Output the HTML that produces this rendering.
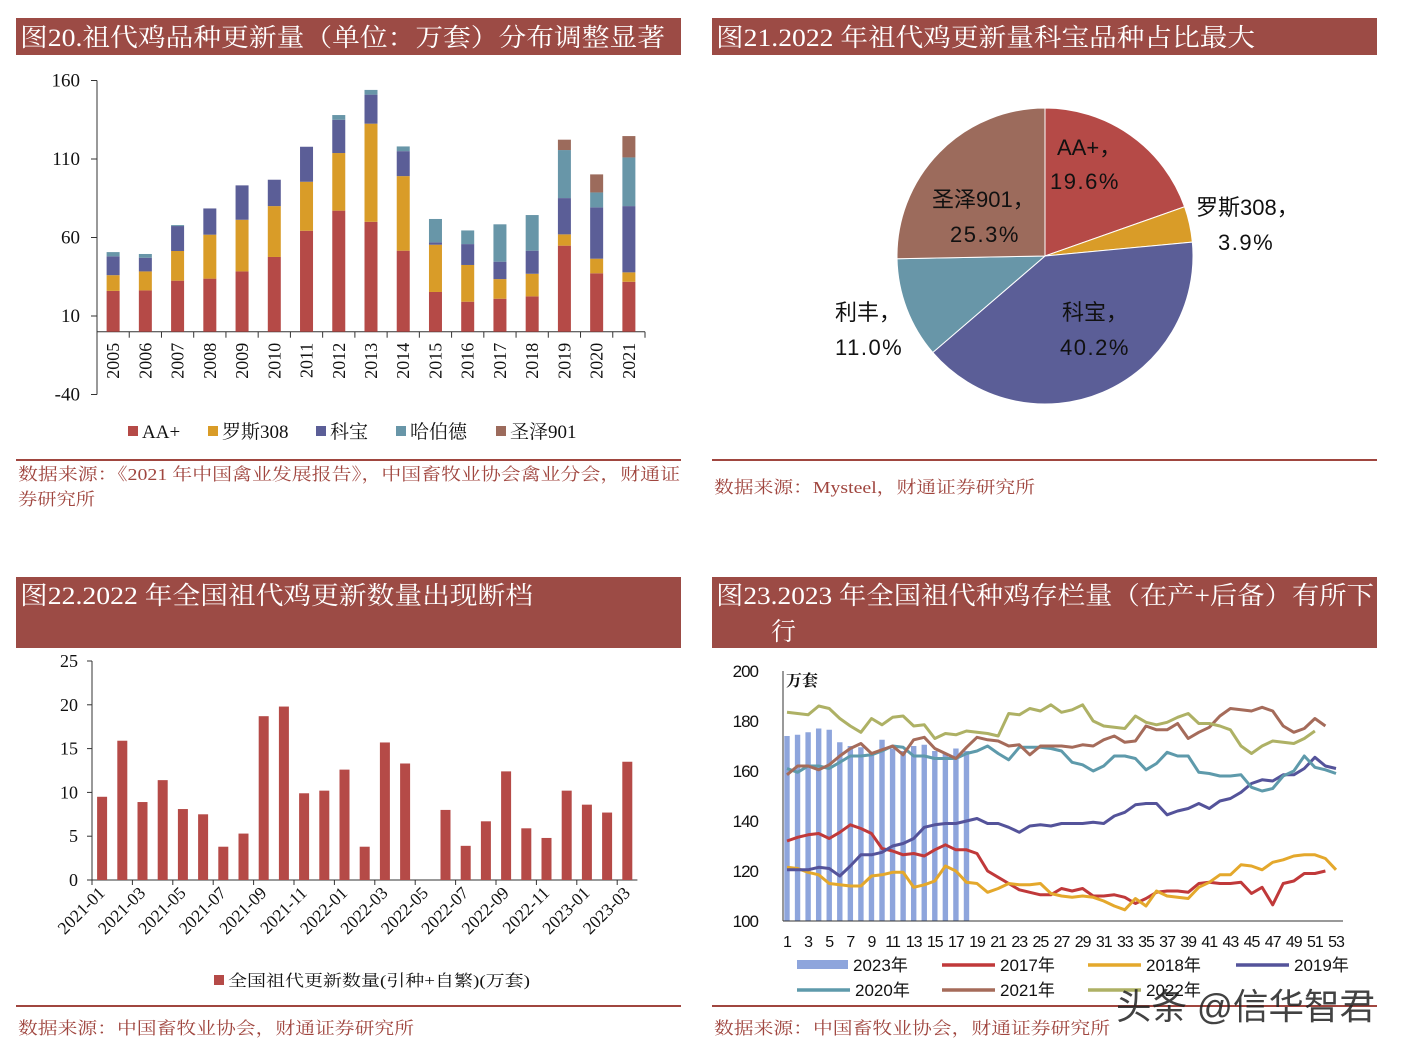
<!DOCTYPE html>
<html><head><meta charset="utf-8"><style>
html,body{margin:0;padding:0;background:#fff;}
svg{display:block;}
text{font-family:"Liberation Serif","Noto Serif CJK SC",serif;}
.sans{font-family:"Liberation Sans","Noto Sans CJK SC",sans-serif;}
</style></head><body>
<svg id="s" width="1404" height="1055" viewBox="0 0 1404 1055" xmlns="http://www.w3.org/2000/svg">
<g>
<rect x="16" y="18" width="665" height="37" fill="#9c4b45"/>
<text x="20" y="46" font-size="25" fill="#fff" textLength="645" lengthAdjust="spacingAndGlyphs">图20.祖代鸡品种更新量（单位：万套）分布调整显著</text>
<rect x="712" y="18" width="665" height="37" fill="#9c4b45"/>
<text x="716" y="46" font-size="25" fill="#fff" textLength="539" lengthAdjust="spacingAndGlyphs">图21.2022 年祖代鸡更新量科宝品种占比最大</text>
<rect x="16" y="577" width="665" height="71" fill="#9c4b45"/>
<text x="20" y="604" font-size="25" fill="#fff" textLength="513" lengthAdjust="spacingAndGlyphs">图22.2022 年全国祖代鸡更新数量出现断档</text>
<rect x="712" y="577" width="665" height="71" fill="#9c4b45"/>
<text x="716" y="604" font-size="25" fill="#fff" textLength="658" lengthAdjust="spacingAndGlyphs">图23.2023 年全国祖代种鸡存栏量（在产+后备）有所下</text>
<text x="771" y="640" font-size="25" fill="#fff">行</text>
</g>
<g>
<line x1="16" y1="460" x2="681" y2="460" stroke="#a0463f" stroke-width="2"/>
<line x1="712" y1="460" x2="1377" y2="460" stroke="#a0463f" stroke-width="2"/>
<line x1="16" y1="1006" x2="681" y2="1006" stroke="#a0463f" stroke-width="2"/>
<line x1="712" y1="1006" x2="1377" y2="1006" stroke="#a0463f" stroke-width="2"/>
<text x="18" y="480" font-size="17" fill="#a0463f" textLength="662" lengthAdjust="spacingAndGlyphs">数据来源：《2021 年中国禽业发展报告》，中国畜牧业协会禽业分会，财通证</text>
<text x="18" y="505" font-size="17" fill="#a0463f" textLength="77" lengthAdjust="spacingAndGlyphs">券研究所</text>
<text x="714" y="493" font-size="17" fill="#a0463f" textLength="321" lengthAdjust="spacingAndGlyphs">数据来源：Mysteel，财通证券研究所</text>
<text x="18" y="1034" font-size="17" fill="#a0463f" textLength="396" lengthAdjust="spacingAndGlyphs">数据来源：中国畜牧业协会，财通证券研究所</text>
<text x="714" y="1034" font-size="17" fill="#a0463f" textLength="396" lengthAdjust="spacingAndGlyphs">数据来源：中国畜牧业协会，财通证券研究所</text>
</g>
<g id="c1"></g>
<g id="c2"></g>
<g id="c3"></g>
<g id="c4"></g>
<text x="1116" y="1019" font-size="36" fill="#222" class="sans" opacity="0.85" textLength="259" lengthAdjust="spacingAndGlyphs">头条 @信华智君</text>
</svg>
<script>
// ---------- Chart 1 data ----------
const years = ['2005','2006','2007','2008','2009','2010','2011','2012','2013','2014','2015','2016','2017','2018','2019','2020','2021'];
const aaPlus = [26,26.3,32.5,33.8,38.4,47.6,64.3,77.1,70,51.6,25.3,19.1,21,22.5,54.8,37.2,31.8];
const ross308 = [10,12.1,18.9,28,32.9,32.4,31.2,36.7,62.5,47.5,30.1,23.4,12.5,14.4,7.2,9.3,6];
const cobb = [12,8.7,15.9,16.7,21.9,16.8,22.3,21.2,18.5,15.9,1.5,13.3,11.1,14.7,23.1,32.7,42.2];
const hubbard = [2.7,2.4,0.6,0,0,0,0,3,3,3,14.9,8.7,23.8,22.7,30.6,9.5,31];
const sasso901 = [0,0,0,0,0,0,0,0,0,0,0,0,0,0,6.6,11.5,13.6];
const c1Ticks = [160,110,60,10,-40];
const c1Legend = ['AA+','罗斯308','科宝','哈伯德','圣泽901'];
// ---------- Chart 2 data ----------
const pieNames = ['AA+','罗斯308','科宝','利丰','圣泽901'];
const pieShares = [19.6,3.9,40.2,11.0,25.3];
const pieLabels = ['19.6%','3.9%','40.2%','11.0%','25.3%'];
// ---------- Chart 3 data ----------
const months = ['2021-01','2021-02','2021-03','2021-04','2021-05','2021-06','2021-07','2021-08','2021-09','2021-10','2021-11','2021-12','2022-01','2022-02','2022-03','2022-04','2022-05','2022-06','2022-07','2022-08','2022-09','2022-10','2022-11','2022-12','2023-01','2023-02','2023-03'];
const renewals = [9.5,15.9,8.9,11.4,8.1,7.5,3.8,5.3,18.7,19.8,9.9,10.2,12.6,3.8,15.7,13.3,0,8.0,3.9,6.7,12.4,5.9,4.8,10.2,8.6,7.7,13.5];
const c3Ticks = [0,5,10,15,20,25];
// ---------- Chart 4 data ----------
const weekTicks = [1,3,5,7,9,11,13,15,17,19,21,23,25,27,29,31,33,35,37,39,41,43,45,47,49,51,53];
const c4Ticks = [100,120,140,160,180,200];
const s2023 = [174,174.5,175.5,177,176.5,171.5,170,169.5,167,172.5,169,168,170,170.5,168,167,169,168];
const s2017 = [132,133.5,134.5,135,133,135.5,138.5,137,135,129,128,126.5,127,126,128.5,130.5,128.5,128.5,127,120,117.5,115,112.5,111.5,110.5,110.5,113,112,113,110,110,110.5,109.5,107,109,111.5,112,112,111.5,115,115.5,115,115,115.5,111,113.5,106.5,115,116,119,119,120];
const s2018 = [121.5,121,119.5,118.5,115,114.5,114,114,118,118.5,119.5,119.5,113.5,114.5,116,122,120,115.5,115,111.5,113,115,114.5,114.5,115,111,110,109.5,110,109.5,108,106,104.5,109,106,112,110,109.5,109,113.5,115.5,118.5,118.5,122.5,122,120.5,123.5,124.5,126,126.5,126.5,125,120.5];
const s2019 = [120.5,120.5,120.5,121.5,121,118,122,126.5,126.5,127.5,130,131,133,137.5,138.5,139,139,140,141,139,139,137.5,135.5,138,138.5,138,139,139,139,139.5,139,142,143.5,146.5,147,147,142.5,144,145,147,145,148,149,151.5,155,156.5,156,158.5,158.5,161,165.5,162,161];
const s2020 = [161,159.5,162,162,161,163.5,166,166,166.5,168,170,169.5,166,166,165,165,165,167,168,170,167,164.5,169.5,169.5,169.5,169,168,163.5,162.5,160,162,166,166,165,160.5,163,167.5,166,166,159.5,159,158,158,158.5,153.5,152,153,158,160,166,161.5,160.5,159];
const s2021 = [158.5,162,162,160.5,162.5,166,169,171,167,168.5,170,166.5,172.5,173.5,169,167,165,169.5,173.5,172.5,172,170,170.5,166.5,170,170,170,169.5,170.5,170,172.5,174,171.5,172,178,176.5,176.5,179,173,175.5,177.5,182,185,184.5,184,185.5,184,178,175.5,177,181,178];
const s2022 = [183.5,183,182.5,186,185,181,178,175.5,181,178.5,181.5,182,178,178.5,173,175,174.5,176,175.5,175,174,183,182.5,185,184,186.5,183.5,184.5,186.5,180,178,177.5,177,182,179.5,178.5,179.5,181.5,183,179,179,178,176.5,170,167,170,172,171.5,171,173,176];
const lineSeriesNames = ['2017年','2018年','2019年','2020年','2021年','2022年'];

const NS='http://www.w3.org/2000/svg';
function mk(parent,tag,attrs,txt){const e=document.createElementNS(NS,tag);for(const k in attrs)e.setAttribute(k,attrs[k]);if(txt!==undefined)e.textContent=txt;parent.appendChild(e);return e;}

// ===== Chart 1 =====
(function(){
const g=document.getElementById('c1');
const colors=['#b54a47','#d99c28','#5b5e97','#6896a8','#9c6b5c'];
const series=[aaPlus,ross308,cobb,hubbard,sasso901];
const x0=97,x1=645,y=v=>331.7-v*1.57;
const step=(x1-x0)/years.length;
const ax=mk(g,'line',{x1:x0,y1:y(160),x2:x0,y2:y(-40),stroke:'#333','stroke-width':1});

c1Ticks.forEach(t=>{mk(g,'line',{x1:x0-6,y1:y(t),x2:x0,y2:y(t),stroke:'#333'});
 const tl=mk(g,'text',{x:x0-17,y:y(t)+6,'font-size':19,'text-anchor':'end',fill:'#111'},String(t));
 });
const xa=mk(g,'line',{x1:x0,y1:y(0),x2:x1,y2:y(0),stroke:'#333'});

years.forEach((yr,i)=>{
 const cx=x0+step*(i+0.5);
 mk(g,'line',{x1:x0+step*(i+1),y1:y(0),x2:x0+step*(i+1),y2:y(0)+6,stroke:'#333'});
 let base=0;
 series.forEach((s,k)=>{const v=s[i];if(v>0){const r=mk(g,'rect',{x:cx-6.5,y:y(base+v),width:13,height:v*1.57,fill:colors[k]});
  }base+=v;});
 const t=mk(g,'text',{x:0,y:0,'font-size':18,'text-anchor':'end',fill:'#111',transform:`translate(${cx+6},${y(0)+11}) rotate(-90)`},yr);
 
});
const lx=[128,208,316,396,496];
c1Legend.forEach((n,k)=>{mk(g,'rect',{x:lx[k],y:426,width:10,height:10,fill:colors[k]});
 const t=mk(g,'text',{x:lx[k]+14,y:438,'font-size':19,fill:'#111'},n);
 });
})();

// ===== Chart 2 =====
(function(){
const g=document.getElementById('c2');
const colors=['#b54a47','#d99c28','#5b5e97','#6896a8','#9c6b5c'];
const cx=1045,cy=256,r=148;const tot=pieShares.reduce((a,b)=>a+b,0);
let a=0;
pieShares.forEach((v,k)=>{const a1=a+v/tot*2*Math.PI;
 const p=(t)=>[cx+r*Math.sin(t),cy-r*Math.cos(t)];const[s0,s1]=[p(a),p(a1)];
 const pa=mk(g,'path',{d:`M${cx},${cy}L${s0[0]},${s0[1]}A${r},${r} 0 ${a1-a>Math.PI?1:0} 1 ${s1[0]},${s1[1]}Z`,fill:colors[k],stroke:'#fff','stroke-width':1});
 
 a=a1;});
const pos=[[1057,155,1050,189],[1196,215,1218,250],[1062,320,1060,355],[835,320,835,355],[932,207,950,242]];
pieNames.forEach((n,k)=>{const P=pos[k];
 const t=mk(g,'text',{x:P[0],y:P[1],'font-size':22,fill:'#111',class:'sans'},n+'，');
 
 const t2=mk(g,'text',{x:P[2],y:P[3],'font-size':22,fill:'#111',class:'sans','letter-spacing':'1.5'},pieLabels[k]);
 });
})();

// ===== Chart 3 =====
(function(){
const g=document.getElementById('c3');
const x0=92,y=v=>880-v*8.76,step=20.2;
const ya=mk(g,'line',{x1:x0,y1:y(25),x2:x0,y2:y(0),stroke:'#333'});

c3Ticks.forEach(t=>{mk(g,'line',{x1:x0-5,y1:y(t),x2:x0,y2:y(t),stroke:'#333'});
 const tl=mk(g,'text',{x:x0-14,y:y(t)+6,'font-size':18,'text-anchor':'end',fill:'#111'},String(t));
 });
const x1=x0+step*months.length;
const xa=mk(g,'line',{x1:x0,y1:y(0),x2:x1,y2:y(0),stroke:'#333'});

months.forEach((m,i)=>{const cx=x0+step*(i+0.5);
 if(renewals[i]>0){const r=mk(g,'rect',{x:cx-5,y:y(renewals[i]),width:10,height:renewals[i]*8.76,fill:'#b54a47'});
  }
 if(i%2===0){const tx=x0+step*i;mk(g,'line',{x1:tx,y1:y(0),x2:tx,y2:y(0)+5,stroke:'#333'});
  const t=mk(g,'text',{x:0,y:0,'font-size':17.5,'text-anchor':'end',fill:'#111',transform:`translate(${tx+14},${y(0)+14}) rotate(-45)`},m);
  }
});
mk(g,'rect',{x:214,y:975,width:10,height:10,fill:'#b54a47'});
const lt=mk(g,'text',{x:228,y:986,'font-size':16,fill:'#111',textLength:302,lengthAdjust:'spacingAndGlyphs'},'全国祖代更新数量(引种+自繁)(万套)');

})();

// ===== Chart 4 =====
(function(){
const g=document.getElementById('c4');
const xw=w=>787+(w-1)*(1336-787)/52,y=v=>921-(v-100)*2.5;
s2023.forEach((v,i)=>{const r=mk(g,'rect',{x:xw(i+1)-2.7,y:y(v),width:5.4,height:(v-100)*2.5,fill:'#8ea5dc'});
 });
const ya=mk(g,'line',{x1:783,y1:671,x2:783,y2:921,stroke:'#333'});

const xa=mk(g,'line',{x1:783,y1:921,x2:1343,y2:921,stroke:'#333'});

c4Ticks.forEach(t=>{const tl=mk(g,'text',{x:758,y:y(t)+6,'font-size':17,'text-anchor':'end',fill:'#111',class:'sans','letter-spacing':'-1'},String(t));
 });
weekTicks.forEach(w=>{const tl=mk(g,'text',{x:xw(w),y:947,'font-size':16,'text-anchor':'middle',fill:'#111',class:'sans','letter-spacing':'-1'},String(w));
 });
const un=mk(g,'text',{x:786,y:686,'font-size':16,'font-weight':'bold',fill:'#111'},'万套');

const cols=['#c0393a','#e4a82c','#54539a','#5e9aab','#a56b5a','#aeb165'];
const ser=[s2017,s2018,s2019,s2020,s2021,s2022];
ser.forEach((s,k)=>{const pts=s.map((v,i)=>xw(i+1).toFixed(1)+','+y(v).toFixed(1)).join(' ');
 const pl=mk(g,'polyline',{points:pts,fill:'none',stroke:cols[k],'stroke-width':3,'stroke-linejoin':'round'});
 });
mk(g,'rect',{x:797,y:960,width:51,height:9,fill:'#8ea5dc'});
const l0=mk(g,'text',{x:853,y:971,'font-size':17,fill:'#111',class:'sans'},'2023年');

const lp=[[942,965],[1088,965],[1236,965],[797,990],[942,990],[1088,990]];
lineSeriesNames.forEach((n,k)=>{const [lx,ly]=lp[k];
 mk(g,'line',{x1:lx,y1:ly,x2:lx+53,y2:ly,stroke:cols[k],'stroke-width':3.5});
 const t=mk(g,'text',{x:lx+58,y:ly+6,'font-size':17,fill:'#111',class:'sans'},n);
 });
})();
</script>
</body></html>
